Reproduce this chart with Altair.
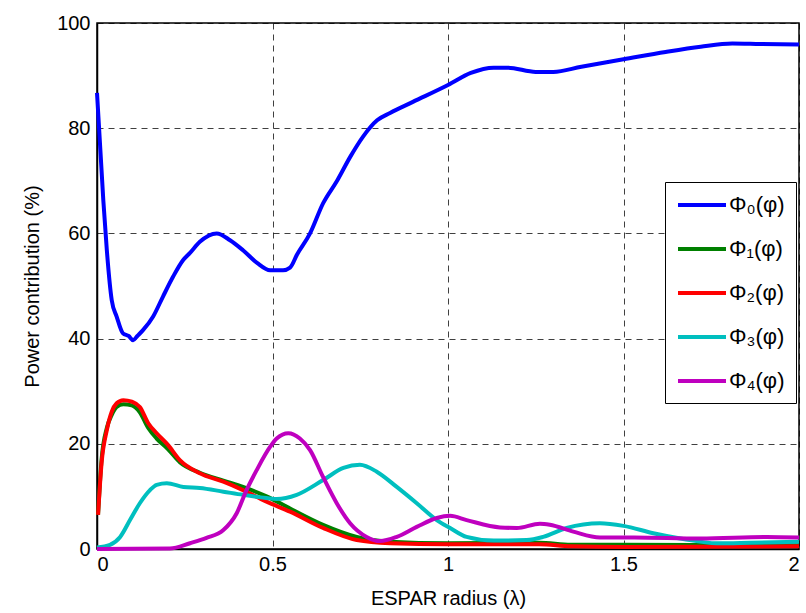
import altair as alt
import pandas as pd

names = ["Φ₀(φ)", "Φ₁(φ)", "Φ₂(φ)", "Φ₃(φ)", "Φ₄(φ)"]
colors = ["#0000FF", "#008000", "#FF0000", "#00BFBF", "#BF00BF"]

x0 = [0, 0.018, 0.028, 0.042, 0.056, 0.074, 0.09, 0.103, 0.115, 0.131, 0.16, 0.188, 0.217,
      0.245, 0.265, 0.293, 0.341, 0.379, 0.416, 0.456, 0.493, 0.53, 0.55, 0.57, 0.607, 0.644,
      0.684, 0.721, 0.758, 0.798, 0.835, 0.90, 1.0, 1.065, 1.13, 1.17, 1.25, 1.30, 1.38, 1.5,
      1.62, 1.72, 1.81, 1.89, 2.0]
y0 = [86.7, 66.3, 56.8, 47.3, 44.2, 41, 40.5, 39.7, 40.5, 41.6, 44.2, 48, 51.8, 54.9, 56.3,
      58.4, 60, 58.7, 56.8, 54.4, 53, 53, 53.5, 56, 60, 65.7, 70, 74.5, 78.4, 81.5, 82.9, 85,
      88.2, 90.5, 91.5, 91.5, 90.7, 90.7, 91.7, 93.1, 94.5, 95.5, 96.1, 96, 95.9]

x12 = [0.003, 0.013, 0.028, 0.042, 0.056, 0.075, 0.099, 0.122, 0.146, 0.17, 0.202, 0.236,
       0.293, 0.36, 0.416, 0.483, 0.55, 0.644, 0.74, 0.835, 1.0, 1.26, 1.35, 1.5, 2.0]
y1 = [6.5, 17, 23, 25.5, 27, 27.5, 27.3, 26, 23, 21, 19, 16.5, 14.5, 13, 11.8, 10, 7.7, 4.6,
      2.3, 1.4, 1.1, 1.2, 0.8, 0.8, 0.7]
y2 = [6.5, 16.3, 22.6, 26.1, 27.7, 28.3, 28, 27, 23.9, 22, 19.8, 16.9, 14.4, 12.8, 11.2, 9.0,
      7.1, 4.0, 1.7, 1.1, 0.9, 0.9, 0.5, 0.4, 0.5]

x3 = [0, 0.037, 0.066, 0.094, 0.122, 0.151, 0.17, 0.199, 0.246, 0.293, 0.36, 0.416, 0.483,
      0.512, 0.569, 0.644, 0.702, 0.749, 0.797, 0.854, 0.911, 0.968, 1.006, 1.053, 1.13, 1.224,
      1.271, 1.338, 1.433, 1.5, 1.585, 1.67, 1.766, 1.86, 2.0]
y3 = [0.3, 0.8, 2.3, 5.5, 8.7, 11.2, 12.2, 12.5, 11.8, 11.6, 10.9, 10.3, 9.7, 9.5, 10.3, 13.1,
      15.4, 16, 14.7, 11.8, 8.7, 5.5, 4, 2.3, 1.6, 1.7, 2.3, 4, 4.9, 4.4, 3, 1.9, 1.1, 1.2, 1.4]

x4 = [0, 0.208, 0.265, 0.312, 0.36, 0.398, 0.426, 0.455, 0.493, 0.512, 0.545, 0.578, 0.607,
      0.644, 0.683, 0.721, 0.768, 0.806, 0.854, 0.911, 0.968, 1.006, 1.053, 1.148, 1.196, 1.262,
      1.29, 1.357, 1.433, 1.53, 1.72, 1.908, 2.0]
y4 = [0, 0.1, 1.1, 2.1, 3.6, 6.8, 11.2, 15, 19.4, 21, 22, 21, 18.8, 13.7, 8.7, 4.9, 2.3, 1.5,
      2.3, 4.2, 5.9, 6.3, 5.5, 4.1, 4.0, 4.8, 4.6, 3.3, 2.2, 2.2, 2.0, 2.3, 2.2]

series = [(x0, y0), (x12, y1), (x12, y2), (x3, y3), (x4, y4)]
rows = []
for i, (xs, ys) in enumerate(series):
    for j, (a, b) in enumerate(zip(xs, ys)):
        rows.append({"r": a, "p": b, "s": names[i], "k": i, "o": j})
df = pd.DataFrame(rows)

FONT = "Liberation Sans"

chart = alt.Chart(df).mark_line(strokeWidth=4, interpolate="monotone").encode(
    x=alt.X("r:Q", scale=alt.Scale(domain=[0, 2], nice=False),
            axis=alt.Axis(title="ESPAR radius (λ)", values=[0, 0.5, 1, 1.5, 2],
                          format="~g", labelPadding=5, titlePadding=14)),
    y=alt.Y("p:Q", scale=alt.Scale(domain=[0, 100], nice=False),
            axis=alt.Axis(title="Power contribution (%)", values=[0, 20, 40, 60, 80, 100],
                          labelPadding=7, titlePadding=14)),
    color=alt.Color("s:N", scale=alt.Scale(domain=names, range=colors),
                    legend=alt.Legend(title=None, orient="none", legendX=568, legendY=159,
                                      symbolType="M-1,0L3.8,0", symbolSize=400,
                                      symbolStrokeWidth=4,
                                      labelFontSize=22, labelFont=FONT, labelColor="black",
                                      padding=11, rowPadding=21, labelOffset=29,
                                      strokeColor="black", fillColor="white")),
    detail="k:N",
    order="o:Q",
).properties(
    width=702, height=526,
    autosize=alt.AutoSizeParams(type="none"),
    padding={"left": 97, "top": 23, "right": 7, "bottom": 64},
    background="white",
).configure_view(
    stroke="black", strokeWidth=1.5
).configure_axis(
    labelFont=FONT, titleFont=FONT, labelFontSize=20, titleFontSize=20,
    labelColor="black", titleColor="black", titleFontWeight="normal",
    domainColor="black", domainWidth=1.5, ticks=False,
    grid=True, gridColor="black", gridOpacity=0.75, gridDash=[6, 5], gridWidth=1,
)

chart.save("out.html", embed_options={"renderer": "svg", "actions": False})
